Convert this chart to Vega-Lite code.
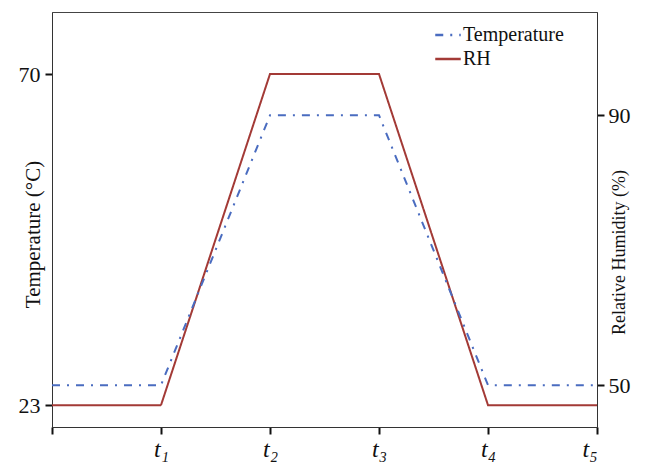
{
  "$schema": "https://vega.github.io/schema/vega-lite/v6.json",
  "width": 545,
  "height": 415,
  "autosize": {"type": "none"},
  "padding": {"left": 52, "top": 12, "right": 52, "bottom": 37},
  "background": "white",
  "config": {
    "view": {"stroke": "#444", "strokeWidth": 1},
    "font": "Liberation Serif",
    "axis": {
      "domainColor": "#333",
      "tickColor": "#111",
      "tickWidth": 2,
      "tickSize": 7,
      "labelFont": "Liberation Serif",
      "titleFont": "Liberation Serif",
      "labelColor": "#111",
      "titleColor": "#111",
      "grid": false,
      "titleFontWeight": "normal",
      "labelFontSize": 22,
      "titleFontSize": 18
    },
    "legend": {"labelFont": "Liberation Serif", "labelColor": "#111"}
  },
  "datasets": {
    "rh": [
      {"x": 0, "v": 23, "series": "RH"},
      {"x": 1, "v": 23, "series": "RH"},
      {"x": 2, "v": 70, "series": "RH"},
      {"x": 3, "v": 70, "series": "RH"},
      {"x": 4, "v": 23, "series": "RH"},
      {"x": 5, "v": 23, "series": "RH"}
    ],
    "temp": [
      {"x": 0, "v": 50, "series": "Temperature"},
      {"x": 1, "v": 50, "series": "Temperature"},
      {"x": 2, "v": 90, "series": "Temperature"},
      {"x": 3, "v": 90, "series": "Temperature"},
      {"x": 4, "v": 50, "series": "Temperature"},
      {"x": 5, "v": 50, "series": "Temperature"}
    ]
  },
  "layer": [
    {
      "data": {"name": "rh"},
      "mark": {"type": "line", "strokeWidth": 2},
      "encoding": {
        "x": {
          "field": "x", "type": "quantitative",
          "scale": {"domain": [0, 5], "nice": false},
          "axis": {
            "values": [0, 1, 2, 3, 4, 5],
            "title": null,
            "labelFontSize": 24,
            "labelFontStyle": "italic",
            "labelPadding": 3,
            "labelExpr": "datum.value == 0 ? '' : 't' + ['', '₁', '₂', '₃', '₄', '₅'][datum.value]"
          }
        },
        "y": {
          "field": "v", "type": "quantitative",
          "scale": {"domain": [19.9, 78.8], "nice": false, "zero": false},
          "axis": {"values": [23, 70], "title": "Temperature (°C)", "titleFontSize": 21, "titleX": -9, "titleY": 222, "labelPadding": 5}
        },
        "color": {
          "field": "series", "type": "nominal",
          "scale": {"domain": ["Temperature", "RH"], "range": ["#4a6cc0", "#a33a36"]},
          "legend": {
            "title": null, "orient": "none", "legendX": 382, "legendY": 9,
            "labelFontSize": 20, "symbolStrokeWidth": 2.5, "symbolSize": 650, "rowPadding": -2, "labelOffset": 1
          }
        },
        "strokeDash": {
          "field": "series", "type": "nominal",
          "scale": {"domain": ["Temperature", "RH"], "range": [[8, 7, 2, 7], [1, 0]]},
          "legend": {
            "title": null, "orient": "none", "legendX": 382, "legendY": 9,
            "labelFontSize": 20, "symbolStrokeWidth": 2.5, "symbolSize": 650, "rowPadding": -2, "labelOffset": 1
          }
        }
      }
    },
    {
      "data": {"name": "temp"},
      "mark": {"type": "line", "strokeWidth": 2},
      "encoding": {
        "x": {
          "field": "x", "type": "quantitative",
          "scale": {"domain": [0, 5], "nice": false},
          "axis": {
            "values": [0, 1, 2, 3, 4, 5],
            "title": null,
            "labelFontSize": 24,
            "labelFontStyle": "italic",
            "labelPadding": 3,
            "labelExpr": "datum.value == 0 ? '' : 't' + ['', '₁', '₂', '₃', '₄', '₅'][datum.value]"
          }
        },
        "y": {
          "field": "v", "type": "quantitative",
          "scale": {"domain": [43.8, 105.3], "nice": false, "zero": false},
          "axis": {"orient": "right", "values": [50, 90], "title": "Relative Humidity (%)", "titleAngle": 270, "titleX": 31, "titleY": 240, "labelPadding": 4}
        },
        "color": {"field": "series", "type": "nominal"},
        "strokeDash": {"field": "series", "type": "nominal"}
      }
    }
  ],
  "resolve": {"scale": {"y": "independent"}}
}
